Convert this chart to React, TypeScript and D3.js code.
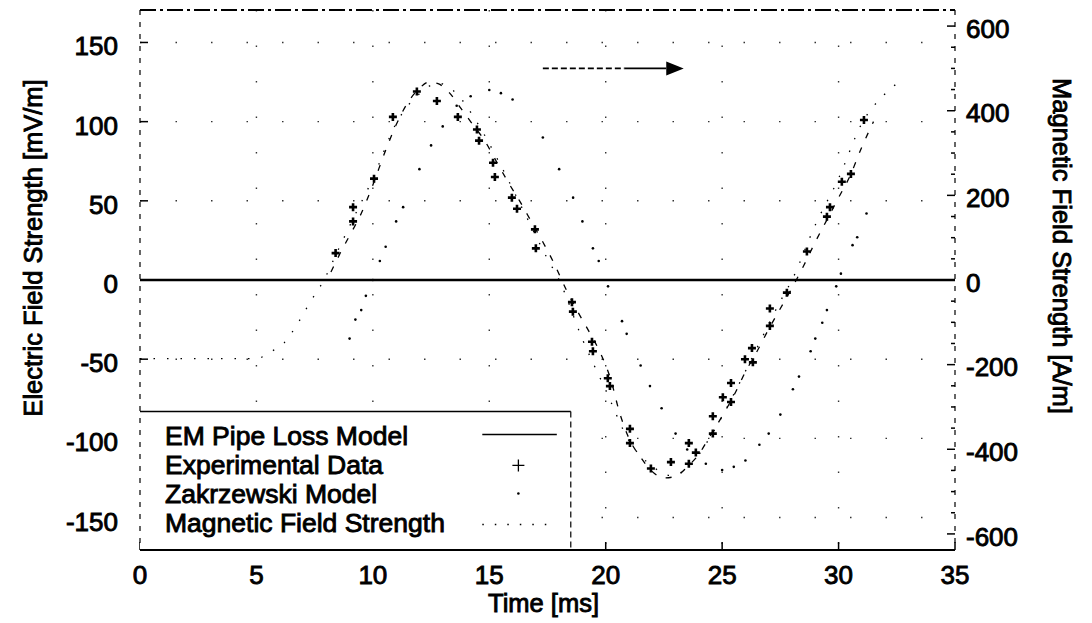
import React from 'react';
import * as d3 from 'd3';

// ---------- data ----------
const timeTicks = [0, 5, 10, 15, 20, 25, 30, 35];
const leftTicks = [-150, -100, -50, 0, 50, 100, 150];
const rightTicks = [-600, -400, -200, 0, 200, 400, 600];
const rightMinorTicks = [-550, -500, -450, -350, -300, -250, -150, -100, -50, 50, 100, 150, 250, 300, 350, 450, 500, 550];

// Experimental Data (time ms, E mV/m)
const expTime = [8.4, 9.15, 9.15, 10.05, 10.86, 11.89, 12.75, 13.65, 14.47, 14.56, 15.16, 15.24, 15.97, 16.19, 16.96, 17.0,
  18.55, 18.59, 19.41, 19.45, 20.09, 20.18, 21.04, 21.04, 21.94, 22.8, 23.57, 23.57, 23.87, 24.6, 24.6, 25.03, 25.38, 25.38,
  25.98, 26.28, 26.32, 27.05, 27.05, 27.78, 28.64, 29.5, 29.63, 30.14, 30.53, 31.09];
const expE = [17, 37, 46, 64, 103, 119, 113, 103, 95, 88, 74, 65, 52, 45, 32, 20,
  -14, -20, -39, -45, -62, -67, -94, -103, -119, -115, -103, -116, -109, -86, -97, -74, -65, -77,
  -50, -43, -52, -18, -29, -8, 18, 40, 46, 62, 67, 101];

// EM Pipe Loss Model (time ms, E mV/m)
const modelTime = [8.2, 8.6, 9.0, 9.5, 10.0, 10.5, 11.0, 11.5, 12.0, 12.4, 12.8, 13.3, 13.8, 14.3, 14.8, 15.3, 15.8, 16.3, 16.8,
  17.3, 17.8, 18.3, 18.8, 19.3, 19.8, 20.2, 20.6, 21.0, 21.5, 22.0, 22.5, 23.0, 23.5, 24.0, 24.5, 25.0, 25.5, 26.0, 26.5,
  27.0, 27.5, 28.0, 28.5, 29.0, 29.5, 30.0, 30.5, 31.0, 31.5];
const modelE = [5, 17, 28, 42, 60, 80, 98, 112, 121, 125, 124, 118, 108, 98, 88, 75, 62, 50, 37,
  24, 10, -6, -20, -33, -47, -62, -84, -100, -112, -121, -125, -124, -118, -110, -98, -86, -73, -58, -45,
  -31, -18, -5, 9, 24, 38, 52, 66, 84, 100];

// Zakrzewski Model (time ms, E mV/m)
const zakTime = [9.0, 9.25, 9.5, 9.7, 10.0, 10.3, 10.55, 11.0, 11.3, 12.0, 12.5, 13.0, 13.6, 14.2, 15.0, 15.5, 16.0, 17.3,
  18.0, 18.6, 19.0, 19.45, 19.7, 20.1, 20.7, 20.9, 21.5, 21.9, 22.4, 23.0, 23.5, 24.3, 25.0, 25.5, 26.0, 26.6, 27.0, 27.5,
  28.04, 28.3, 28.8, 29.0, 29.3, 29.5, 29.9, 30.1, 30.6, 30.8, 31.2];
const zakE = [-37, -25, -19, -10, 0, 12, 21, 37, 46, 70, 85, 97, 110, 116, 120, 118, 114, 90,
  70, 52, 37, 20, 12, -4, -26, -34, -54, -67, -81, -97, -107, -116, -120, -118, -114, -104, -97, -85,
  -69, -61, -45, -37, -27, -19, -4, 4, 22, 27, 42];

// Magnetic Field Strength (time ms, H A/m, right axis)
const magTime = [0, 2.5, 5.0, 5.6, 6.2, 6.8, 7.3, 7.9, 8.5, 9.2, 10.0, 11.0, 12.0, 12.8, 13.6, 14.5, 15.5, 16.5, 17.5,
  18.0, 19.0, 20.0, 21.0, 22.0, 22.8, 23.6, 24.5, 25.5, 26.5, 27.5, 28.0, 29.0, 30.0, 31.0, 32.0, 32.7];
const magH = [-186, -186, -186, -170, -148, -100, -53, 0, 70, 150, 240, 370, 440, 465, 440, 370, 270, 160, 50,
  0, -140, -260, -380, -440, -462, -440, -370, -270, -160, -50, 0, 130, 240, 370, 440, 472];

const legendLabels = ['EM Pipe Loss Model', 'Experimental Data', 'Zakrzewski Model', 'Magnetic Field Strength'];

// ---------- layout ----------
const W = 1092;
const H = 623;
const PL = 140, PR = 955, PT = 10, PB = 550;
const FONT = '"Liberation Sans", Arial, Helvetica, sans-serif';

export default function App() {
  const x = d3.scaleLinear().domain([0, 35]).range([PL, PR]);
  const yL = d3.scaleLinear().domain([-170.5, 170.5]).range([PB, PT]);
  const yR = d3.scaleLinear().domain([-638, 638]).range([PB, PT]);

  const lineL = d3.line<number>().x((_, i) => x(modelTime[i])).y((d) => yL(d)).curve(d3.curveMonotoneX);
  const lineR = d3.line<number>().x((_, i) => x(magTime[i])).y((d) => yR(d)).curve(d3.curveMonotoneX);

  // legend box (in data units)
  const legRight = x(18.5);
  const legTop = yL(-83);
  const legTextX = PL + 25;
  const legRow0 = legTop + 34;
  const legStep = 29;
  const sampX0 = x(14.7), sampX1 = x(17.9), sampMid = x(16.25);

  const textStyle = { fontFamily: FONT, fill: '#000', stroke: '#000', strokeWidth: 0.9 } as const;

  // arrow annotation
  const arrY = yR(500);
  const arrX0 = x(17.3), arrXd = x(20.8), arrX1 = x(22.6), arrTip = x(23.35);

  return (
    <svg width={W} height={H} style={{ position: 'absolute', left: 0, top: 0, background: '#fff' }}>
      <rect x={0} y={0} width={W} height={H} fill="#fff" />
      {/* sparse dotted grid */}
      <g stroke="#333" strokeWidth={1.4} strokeDasharray="1.5,34">
        {timeTicks.slice(1, -1).map((t) => (
          <line key={'gv' + t} x1={x(t)} x2={x(t)} y1={PT} y2={PB} />
        ))}
        {leftTicks.filter((v) => v !== 0).map((v) => (
          <line key={'gh' + v} x1={PL} x2={PR} y1={yL(v)} y2={yL(v)} />
        ))}
      </g>
      {/* zero line */}
      <line x1={PL} x2={PR} y1={yL(0)} y2={yL(0)} stroke="#000" strokeWidth={2.6} />

      {/* magnetic field dotted */}
      <path d={lineR(magH) || ''} fill="none" stroke="#000" strokeWidth={1.3} strokeDasharray="1.5,12" />
      {/* EM pipe loss model */}
      <path d={lineL(modelE) || ''} fill="none" stroke="#000" strokeWidth={1.3} strokeDasharray="6,10" />
      {/* Zakrzewski dots */}
      {zakE.map((v, i) => (
        <circle key={'z' + i} cx={x(zakTime[i])} cy={yL(v)} r={1.3} fill="#000" />
      ))}
      {/* experimental crosses */}
      {expE.map((v, i) => (
        <path key={'e' + i} transform={`translate(${x(expTime[i])},${yL(v)})`} d="M-4,0H4M0,-4V4" stroke="#000" strokeWidth={2.6} />
      ))}

      {/* ticks */}
      <g stroke="#000" strokeWidth={1.5}>
        {leftTicks.map((v) => (
          <line key={'lt' + v} x1={PL} x2={PL + 8} y1={yL(v)} y2={yL(v)} />
        ))}
        {rightTicks.map((v) => (
          <line key={'rt' + v} x1={PR} x2={PR - 8} y1={yR(v)} y2={yR(v)} />
        ))}
        {rightMinorTicks.map((v) => (
          <line key={'rm' + v} x1={PR} x2={PR - 4} y1={yR(v)} y2={yR(v)} />
        ))}
        {timeTicks.map((t) => (
          <line key={'bt' + t} x1={x(t)} x2={x(t)} y1={PB} y2={PB - 8} />
        ))}
      </g>

      {/* legend */}
      <rect x={PL} y={legTop} width={legRight - PL} height={PB - legTop} fill="#fff" />
      <line x1={PL} x2={legRight} y1={legTop} y2={legTop} stroke="#000" strokeWidth={1.6} />
      <line x1={legRight} x2={legRight} y1={legTop} y2={PB} stroke="#000" strokeWidth={1.2} strokeDasharray="6,4" />
      {legendLabels.map((s, i) => (
        <text key={s} x={legTextX} y={legRow0 + i * legStep} fontSize={26.5} style={textStyle}>{s}</text>
      ))}
      <line x1={sampX0} x2={sampX1} y1={legRow0 - 11} y2={legRow0 - 11} stroke="#000" strokeWidth={1.5} />
      <path transform={`translate(${sampMid},${legRow0 + legStep - 9})`} d="M-6,0H6M0,-6V6" stroke="#000" strokeWidth={1.3} />
      <circle cx={sampMid} cy={legRow0 + 2 * legStep - 10} r={1.3} fill="#000" />
      <line x1={sampX0} x2={sampX1} y1={legRow0 + 3 * legStep - 8} y2={legRow0 + 3 * legStep - 8} stroke="#000" strokeWidth={1.5} strokeDasharray="1.5,11" />

      {/* frame */}
      <line x1={PL} x2={PR} y1={PT} y2={PT} stroke="#000" strokeWidth={2} strokeDasharray="16,4,3,4" />
      <line x1={PL} x2={PL} y1={PT} y2={PB} stroke="#000" strokeWidth={1.2} strokeDasharray="5,7" />
      <line x1={PR} x2={PR} y1={PT} y2={PB} stroke="#000" strokeWidth={1.2} strokeDasharray="5,7" />
      <line x1={PL} x2={PR} y1={PB} y2={PB} stroke="#000" strokeWidth={2} />

      {/* arrow */}
      <line x1={arrX0} x2={arrXd} y1={arrY} y2={arrY} stroke="#000" strokeWidth={1.8} strokeDasharray="6,3" />
      <line x1={arrXd} x2={arrX1} y1={arrY} y2={arrY} stroke="#000" strokeWidth={1.8} />
      <path d={`M${arrX1},${arrY - 7}L${arrTip},${arrY}L${arrX1},${arrY + 7}Z`} fill="#000" />

      {/* tick labels */}
      {leftTicks.map((v) => (
        <text key={'ll' + v} x={PL - 22} y={yL(v)} dy="0.5em" textAnchor="end" fontSize={26} style={textStyle}>{v}</text>
      ))}
      {rightTicks.map((v) => (
        <text key={'rl' + v} x={PR + 11} y={yR(v)} dy="0.45em" textAnchor="start" fontSize={26} style={textStyle}>{v}</text>
      ))}
      {timeTicks.map((t) => (
        <text key={'bl' + t} x={x(t)} y={PB + 34} textAnchor="middle" fontSize={26} style={textStyle}>{t}</text>
      ))}

      {/* axis titles */}
      <text x={(PL + PR) / 2 - 4} y={612} textAnchor="middle" fontSize={25.5} style={textStyle}>Time [ms]</text>
      <text transform={`translate(42,248) rotate(-90)`} textAnchor="middle" fontSize={25.5} style={textStyle}>Electric Field Strength [mV/m]</text>
      <text transform={`translate(1053,246) rotate(90)`} textAnchor="middle" fontSize={25.5} style={textStyle}>Magnetic Field Strength [A/m]</text>
    </svg>
  );
}
